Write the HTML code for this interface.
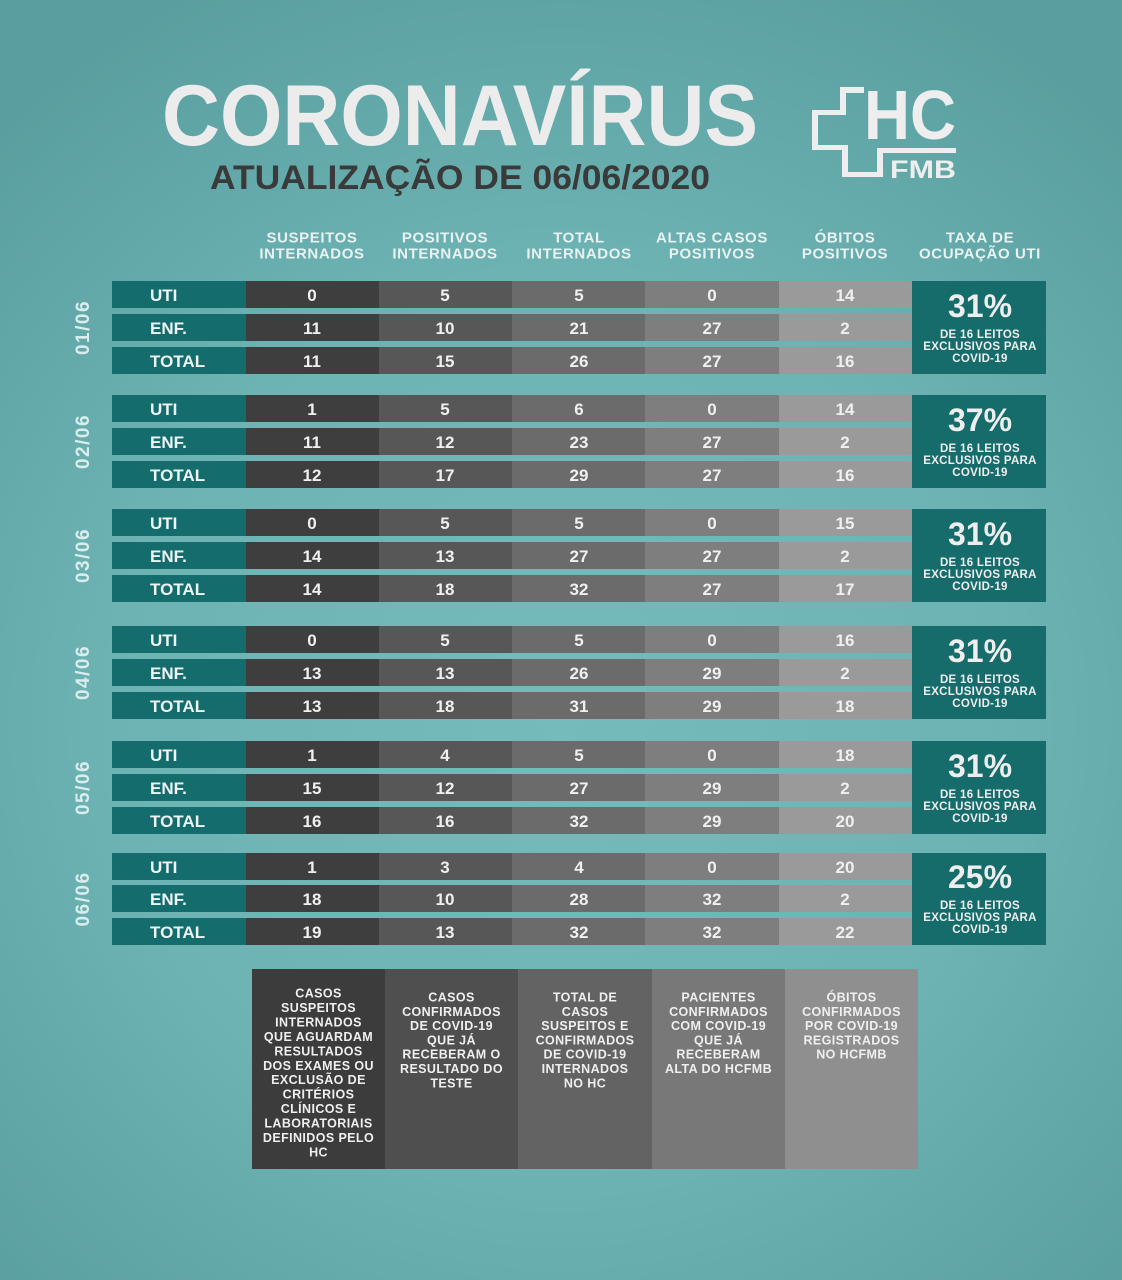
<!DOCTYPE html>
<html><head><meta charset="utf-8"><style>
html,body{margin:0;padding:0;background:#68afaf;}
svg{display:block;}
text{font-family:"Liberation Sans",Arial,sans-serif;}
</style></head><body>
<svg width="1122" height="1280" viewBox="0 0 1122 1280" xmlns="http://www.w3.org/2000/svg">
<defs>
<radialGradient id="bg" cx="560" cy="720" r="820" gradientUnits="userSpaceOnUse">
<stop offset="0" stop-color="#75bbbb"/>
<stop offset="0.55" stop-color="#6db3b3"/>
<stop offset="1" stop-color="#5a9e9f"/>
</radialGradient>
</defs>
<rect x="0" y="0" width="1122" height="1280" fill="url(#bg)"/>

<!-- Title -->
<text x="162" y="145" font-size="86" font-weight="bold" fill="#ececec" textLength="596" lengthAdjust="spacingAndGlyphs">CORONAVÍRUS</text>
<text x="210" y="189" font-size="34" font-weight="bold" fill="#3a3a3a" textLength="500" lengthAdjust="spacingAndGlyphs">ATUALIZAÇÃO DE 06/06/2020</text>

<!-- Logo -->
<g fill="#eeeeee">
<rect x="840" y="87" width="24" height="6"/>
<rect x="840" y="87" width="6" height="28"/>
<rect x="812" y="110" width="34" height="5"/>
<rect x="812" y="110" width="6" height="40"/>
<rect x="812" y="145" width="36" height="5"/>
<rect x="842" y="145" width="6" height="32"/>
<rect x="842" y="172" width="40" height="5"/>
<rect x="877" y="148" width="6" height="29"/>
<rect x="877" y="148" width="79" height="5"/>
</g>
<text x="864" y="139" font-size="70" font-weight="bold" fill="#eeeeee" textLength="92" lengthAdjust="spacingAndGlyphs">HC</text>
<text x="890" y="178" font-size="25" font-weight="bold" fill="#eeeeee" textLength="66" lengthAdjust="spacingAndGlyphs">FMB</text>

<!-- Column headers -->
<g font-size="15" font-weight="bold" fill="#e9f2f2" text-anchor="middle" letter-spacing="0.6">
<text x="312" y="242.5">SUSPEITOS</text><text x="312" y="258.5">INTERNADOS</text>
<text x="445" y="242.5">POSITIVOS</text><text x="445" y="258.5">INTERNADOS</text>
<text x="579" y="242.5">TOTAL</text><text x="579" y="258.5">INTERNADOS</text>
<text x="712" y="242.5">ALTAS CASOS</text><text x="712" y="258.5">POSITIVOS</text>
<text x="845" y="242.5">ÓBITOS</text><text x="845" y="258.5">POSITIVOS</text>
<text x="980" y="242.5">TAXA DE</text><text x="980" y="258.5">OCUPAÇÃO UTI</text>
</g>

<!-- Blocks -->
<g id="blocks">
<!-- Block template: rows at top+0, +33, +66, height 27 -->
</g>

<!-- Block 1 -->
<g>
<g transform="translate(0,281)">
<rect x="112" y="0" width="134" height="27" fill="#146c6d"/><rect x="246" y="0" width="133" height="27" fill="#3e3e3e"/><rect x="379" y="0" width="133" height="27" fill="#575757"/><rect x="512" y="0" width="133" height="27" fill="#6b6b6b"/><rect x="645" y="0" width="134" height="27" fill="#7e7e7e"/><rect x="779" y="0" width="133" height="27" fill="#9a9a9a"/>
<rect x="112" y="33" width="134" height="27" fill="#146c6d"/><rect x="246" y="33" width="133" height="27" fill="#3e3e3e"/><rect x="379" y="33" width="133" height="27" fill="#575757"/><rect x="512" y="33" width="133" height="27" fill="#6b6b6b"/><rect x="645" y="33" width="134" height="27" fill="#7e7e7e"/><rect x="779" y="33" width="133" height="27" fill="#9a9a9a"/>
<rect x="112" y="66" width="134" height="27" fill="#146c6d"/><rect x="246" y="66" width="133" height="27" fill="#3e3e3e"/><rect x="379" y="66" width="133" height="27" fill="#575757"/><rect x="512" y="66" width="133" height="27" fill="#6b6b6b"/><rect x="645" y="66" width="134" height="27" fill="#7e7e7e"/><rect x="779" y="66" width="133" height="27" fill="#9a9a9a"/>
<rect x="912" y="0" width="134" height="93" fill="#166b6b"/>
<g font-size="17" font-weight="bold" fill="#eef5f5"><text x="150" y="20">UTI</text><text x="150" y="53">ENF.</text><text x="150" y="86">TOTAL</text></g>
<g font-size="17" font-weight="bold" fill="#f0f0f0" text-anchor="middle">
<text x="312" y="20">0</text><text x="445" y="20">5</text><text x="579" y="20">5</text><text x="712" y="20">0</text><text x="845" y="20">14</text>
<text x="312" y="53">11</text><text x="445" y="53">10</text><text x="579" y="53">21</text><text x="712" y="53">27</text><text x="845" y="53">2</text>
<text x="312" y="86">11</text><text x="445" y="86">15</text><text x="579" y="86">26</text><text x="712" y="86">27</text><text x="845" y="86">16</text>
</g>
<text x="980" y="36" font-size="32" font-weight="bold" fill="#eeeeee" text-anchor="middle">31%</text>
<g font-size="11.5" font-weight="bold" fill="#eeeeee" text-anchor="middle" letter-spacing="0.3"><text x="980" y="57">DE 16 LEITOS</text><text x="980" y="69">EXCLUSIVOS PARA</text><text x="980" y="81">COVID-19</text></g>
<text transform="translate(82,46.5) rotate(-90)" y="7" font-size="19" font-weight="bold" fill="#d9eded" text-anchor="middle" letter-spacing="1.5">01/06</text>
</g>
</g>

<!-- Block 2 -->
<g transform="translate(0,395)">
<rect x="112" y="0" width="134" height="27" fill="#146c6d"/><rect x="246" y="0" width="133" height="27" fill="#3e3e3e"/><rect x="379" y="0" width="133" height="27" fill="#575757"/><rect x="512" y="0" width="133" height="27" fill="#6b6b6b"/><rect x="645" y="0" width="134" height="27" fill="#7e7e7e"/><rect x="779" y="0" width="133" height="27" fill="#9a9a9a"/>
<rect x="112" y="33" width="134" height="27" fill="#146c6d"/><rect x="246" y="33" width="133" height="27" fill="#3e3e3e"/><rect x="379" y="33" width="133" height="27" fill="#575757"/><rect x="512" y="33" width="133" height="27" fill="#6b6b6b"/><rect x="645" y="33" width="134" height="27" fill="#7e7e7e"/><rect x="779" y="33" width="133" height="27" fill="#9a9a9a"/>
<rect x="112" y="66" width="134" height="27" fill="#146c6d"/><rect x="246" y="66" width="133" height="27" fill="#3e3e3e"/><rect x="379" y="66" width="133" height="27" fill="#575757"/><rect x="512" y="66" width="133" height="27" fill="#6b6b6b"/><rect x="645" y="66" width="134" height="27" fill="#7e7e7e"/><rect x="779" y="66" width="133" height="27" fill="#9a9a9a"/>
<rect x="912" y="0" width="134" height="93" fill="#166b6b"/>
<g font-size="17" font-weight="bold" fill="#eef5f5"><text x="150" y="20">UTI</text><text x="150" y="53">ENF.</text><text x="150" y="86">TOTAL</text></g>
<g font-size="17" font-weight="bold" fill="#f0f0f0" text-anchor="middle">
<text x="312" y="20">1</text><text x="445" y="20">5</text><text x="579" y="20">6</text><text x="712" y="20">0</text><text x="845" y="20">14</text>
<text x="312" y="53">11</text><text x="445" y="53">12</text><text x="579" y="53">23</text><text x="712" y="53">27</text><text x="845" y="53">2</text>
<text x="312" y="86">12</text><text x="445" y="86">17</text><text x="579" y="86">29</text><text x="712" y="86">27</text><text x="845" y="86">16</text>
</g>
<text x="980" y="36" font-size="32" font-weight="bold" fill="#eeeeee" text-anchor="middle">37%</text>
<g font-size="11.5" font-weight="bold" fill="#eeeeee" text-anchor="middle" letter-spacing="0.3"><text x="980" y="57">DE 16 LEITOS</text><text x="980" y="69">EXCLUSIVOS PARA</text><text x="980" y="81">COVID-19</text></g>
<text transform="translate(82,46.5) rotate(-90)" y="7" font-size="19" font-weight="bold" fill="#d9eded" text-anchor="middle" letter-spacing="1.5">02/06</text>
</g>

<!-- Block 3 -->
<g transform="translate(0,509)">
<rect x="112" y="0" width="134" height="27" fill="#146c6d"/><rect x="246" y="0" width="133" height="27" fill="#3e3e3e"/><rect x="379" y="0" width="133" height="27" fill="#575757"/><rect x="512" y="0" width="133" height="27" fill="#6b6b6b"/><rect x="645" y="0" width="134" height="27" fill="#7e7e7e"/><rect x="779" y="0" width="133" height="27" fill="#9a9a9a"/>
<rect x="112" y="33" width="134" height="27" fill="#146c6d"/><rect x="246" y="33" width="133" height="27" fill="#3e3e3e"/><rect x="379" y="33" width="133" height="27" fill="#575757"/><rect x="512" y="33" width="133" height="27" fill="#6b6b6b"/><rect x="645" y="33" width="134" height="27" fill="#7e7e7e"/><rect x="779" y="33" width="133" height="27" fill="#9a9a9a"/>
<rect x="112" y="66" width="134" height="27" fill="#146c6d"/><rect x="246" y="66" width="133" height="27" fill="#3e3e3e"/><rect x="379" y="66" width="133" height="27" fill="#575757"/><rect x="512" y="66" width="133" height="27" fill="#6b6b6b"/><rect x="645" y="66" width="134" height="27" fill="#7e7e7e"/><rect x="779" y="66" width="133" height="27" fill="#9a9a9a"/>
<rect x="912" y="0" width="134" height="93" fill="#166b6b"/>
<g font-size="17" font-weight="bold" fill="#eef5f5"><text x="150" y="20">UTI</text><text x="150" y="53">ENF.</text><text x="150" y="86">TOTAL</text></g>
<g font-size="17" font-weight="bold" fill="#f0f0f0" text-anchor="middle">
<text x="312" y="20">0</text><text x="445" y="20">5</text><text x="579" y="20">5</text><text x="712" y="20">0</text><text x="845" y="20">15</text>
<text x="312" y="53">14</text><text x="445" y="53">13</text><text x="579" y="53">27</text><text x="712" y="53">27</text><text x="845" y="53">2</text>
<text x="312" y="86">14</text><text x="445" y="86">18</text><text x="579" y="86">32</text><text x="712" y="86">27</text><text x="845" y="86">17</text>
</g>
<text x="980" y="36" font-size="32" font-weight="bold" fill="#eeeeee" text-anchor="middle">31%</text>
<g font-size="11.5" font-weight="bold" fill="#eeeeee" text-anchor="middle" letter-spacing="0.3"><text x="980" y="57">DE 16 LEITOS</text><text x="980" y="69">EXCLUSIVOS PARA</text><text x="980" y="81">COVID-19</text></g>
<text transform="translate(82,46.5) rotate(-90)" y="7" font-size="19" font-weight="bold" fill="#d9eded" text-anchor="middle" letter-spacing="1.5">03/06</text>
</g>

<!-- Block 4 -->
<g transform="translate(0,626)">
<rect x="112" y="0" width="134" height="27" fill="#146c6d"/><rect x="246" y="0" width="133" height="27" fill="#3e3e3e"/><rect x="379" y="0" width="133" height="27" fill="#575757"/><rect x="512" y="0" width="133" height="27" fill="#6b6b6b"/><rect x="645" y="0" width="134" height="27" fill="#7e7e7e"/><rect x="779" y="0" width="133" height="27" fill="#9a9a9a"/>
<rect x="112" y="33" width="134" height="27" fill="#146c6d"/><rect x="246" y="33" width="133" height="27" fill="#3e3e3e"/><rect x="379" y="33" width="133" height="27" fill="#575757"/><rect x="512" y="33" width="133" height="27" fill="#6b6b6b"/><rect x="645" y="33" width="134" height="27" fill="#7e7e7e"/><rect x="779" y="33" width="133" height="27" fill="#9a9a9a"/>
<rect x="112" y="66" width="134" height="27" fill="#146c6d"/><rect x="246" y="66" width="133" height="27" fill="#3e3e3e"/><rect x="379" y="66" width="133" height="27" fill="#575757"/><rect x="512" y="66" width="133" height="27" fill="#6b6b6b"/><rect x="645" y="66" width="134" height="27" fill="#7e7e7e"/><rect x="779" y="66" width="133" height="27" fill="#9a9a9a"/>
<rect x="912" y="0" width="134" height="93" fill="#166b6b"/>
<g font-size="17" font-weight="bold" fill="#eef5f5"><text x="150" y="20">UTI</text><text x="150" y="53">ENF.</text><text x="150" y="86">TOTAL</text></g>
<g font-size="17" font-weight="bold" fill="#f0f0f0" text-anchor="middle">
<text x="312" y="20">0</text><text x="445" y="20">5</text><text x="579" y="20">5</text><text x="712" y="20">0</text><text x="845" y="20">16</text>
<text x="312" y="53">13</text><text x="445" y="53">13</text><text x="579" y="53">26</text><text x="712" y="53">29</text><text x="845" y="53">2</text>
<text x="312" y="86">13</text><text x="445" y="86">18</text><text x="579" y="86">31</text><text x="712" y="86">29</text><text x="845" y="86">18</text>
</g>
<text x="980" y="36" font-size="32" font-weight="bold" fill="#eeeeee" text-anchor="middle">31%</text>
<g font-size="11.5" font-weight="bold" fill="#eeeeee" text-anchor="middle" letter-spacing="0.3"><text x="980" y="57">DE 16 LEITOS</text><text x="980" y="69">EXCLUSIVOS PARA</text><text x="980" y="81">COVID-19</text></g>
<text transform="translate(82,46.5) rotate(-90)" y="7" font-size="19" font-weight="bold" fill="#d9eded" text-anchor="middle" letter-spacing="1.5">04/06</text>
</g>

<!-- Block 5 -->
<g transform="translate(0,741)">
<rect x="112" y="0" width="134" height="27" fill="#146c6d"/><rect x="246" y="0" width="133" height="27" fill="#3e3e3e"/><rect x="379" y="0" width="133" height="27" fill="#575757"/><rect x="512" y="0" width="133" height="27" fill="#6b6b6b"/><rect x="645" y="0" width="134" height="27" fill="#7e7e7e"/><rect x="779" y="0" width="133" height="27" fill="#9a9a9a"/>
<rect x="112" y="33" width="134" height="27" fill="#146c6d"/><rect x="246" y="33" width="133" height="27" fill="#3e3e3e"/><rect x="379" y="33" width="133" height="27" fill="#575757"/><rect x="512" y="33" width="133" height="27" fill="#6b6b6b"/><rect x="645" y="33" width="134" height="27" fill="#7e7e7e"/><rect x="779" y="33" width="133" height="27" fill="#9a9a9a"/>
<rect x="112" y="66" width="134" height="27" fill="#146c6d"/><rect x="246" y="66" width="133" height="27" fill="#3e3e3e"/><rect x="379" y="66" width="133" height="27" fill="#575757"/><rect x="512" y="66" width="133" height="27" fill="#6b6b6b"/><rect x="645" y="66" width="134" height="27" fill="#7e7e7e"/><rect x="779" y="66" width="133" height="27" fill="#9a9a9a"/>
<rect x="912" y="0" width="134" height="93" fill="#166b6b"/>
<g font-size="17" font-weight="bold" fill="#eef5f5"><text x="150" y="20">UTI</text><text x="150" y="53">ENF.</text><text x="150" y="86">TOTAL</text></g>
<g font-size="17" font-weight="bold" fill="#f0f0f0" text-anchor="middle">
<text x="312" y="20">1</text><text x="445" y="20">4</text><text x="579" y="20">5</text><text x="712" y="20">0</text><text x="845" y="20">18</text>
<text x="312" y="53">15</text><text x="445" y="53">12</text><text x="579" y="53">27</text><text x="712" y="53">29</text><text x="845" y="53">2</text>
<text x="312" y="86">16</text><text x="445" y="86">16</text><text x="579" y="86">32</text><text x="712" y="86">29</text><text x="845" y="86">20</text>
</g>
<text x="980" y="36" font-size="32" font-weight="bold" fill="#eeeeee" text-anchor="middle">31%</text>
<g font-size="11.5" font-weight="bold" fill="#eeeeee" text-anchor="middle" letter-spacing="0.3"><text x="980" y="57">DE 16 LEITOS</text><text x="980" y="69">EXCLUSIVOS PARA</text><text x="980" y="81">COVID-19</text></g>
<text transform="translate(82,46.5) rotate(-90)" y="7" font-size="19" font-weight="bold" fill="#d9eded" text-anchor="middle" letter-spacing="1.5">05/06</text>
</g>

<!-- Block 6 -->
<g transform="translate(0,853)">
<rect x="112" y="0" width="134" height="27" fill="#146c6d"/><rect x="246" y="0" width="133" height="27" fill="#3e3e3e"/><rect x="379" y="0" width="133" height="27" fill="#575757"/><rect x="512" y="0" width="133" height="27" fill="#6b6b6b"/><rect x="645" y="0" width="134" height="27" fill="#7e7e7e"/><rect x="779" y="0" width="133" height="27" fill="#9a9a9a"/>
<rect x="112" y="32" width="134" height="27" fill="#146c6d"/><rect x="246" y="32" width="133" height="27" fill="#3e3e3e"/><rect x="379" y="32" width="133" height="27" fill="#575757"/><rect x="512" y="32" width="133" height="27" fill="#6b6b6b"/><rect x="645" y="32" width="134" height="27" fill="#7e7e7e"/><rect x="779" y="32" width="133" height="27" fill="#9a9a9a"/>
<rect x="112" y="65" width="134" height="27" fill="#146c6d"/><rect x="246" y="65" width="133" height="27" fill="#3e3e3e"/><rect x="379" y="65" width="133" height="27" fill="#575757"/><rect x="512" y="65" width="133" height="27" fill="#6b6b6b"/><rect x="645" y="65" width="134" height="27" fill="#7e7e7e"/><rect x="779" y="65" width="133" height="27" fill="#9a9a9a"/>
<rect x="912" y="0" width="134" height="92" fill="#166b6b"/>
<g font-size="17" font-weight="bold" fill="#eef5f5"><text x="150" y="20">UTI</text><text x="150" y="52">ENF.</text><text x="150" y="85">TOTAL</text></g>
<g font-size="17" font-weight="bold" fill="#f0f0f0" text-anchor="middle">
<text x="312" y="20">1</text><text x="445" y="20">3</text><text x="579" y="20">4</text><text x="712" y="20">0</text><text x="845" y="20">20</text>
<text x="312" y="52">18</text><text x="445" y="52">10</text><text x="579" y="52">28</text><text x="712" y="52">32</text><text x="845" y="52">2</text>
<text x="312" y="85">19</text><text x="445" y="85">13</text><text x="579" y="85">32</text><text x="712" y="85">32</text><text x="845" y="85">22</text>
</g>
<text x="980" y="35" font-size="32" font-weight="bold" fill="#eeeeee" text-anchor="middle">25%</text>
<g font-size="11.5" font-weight="bold" fill="#eeeeee" text-anchor="middle" letter-spacing="0.3"><text x="980" y="56">DE 16 LEITOS</text><text x="980" y="68">EXCLUSIVOS PARA</text><text x="980" y="80">COVID-19</text></g>
<text transform="translate(82,46) rotate(-90)" y="7" font-size="19" font-weight="bold" fill="#d9eded" text-anchor="middle" letter-spacing="1.5">06/06</text>
</g>

<!-- Legend -->
<rect x="252" y="969" width="133" height="200" fill="#3c3c3c"/>
<rect x="385" y="969" width="133" height="200" fill="#4f4f4f"/>
<rect x="518" y="969" width="134" height="200" fill="#636363"/>
<rect x="652" y="969" width="133" height="200" fill="#787878"/>
<rect x="785" y="969" width="133" height="200" fill="#8f8f8f"/>
<g font-size="12.5" font-weight="bold" fill="#efefef" text-anchor="middle" letter-spacing="0.4">
<text x="318.5" y="997.5">CASOS</text>
<text x="318.5" y="1012">SUSPEITOS</text>
<text x="318.5" y="1026.4">INTERNADOS</text>
<text x="318.5" y="1040.9">QUE AGUARDAM</text>
<text x="318.5" y="1055.3">RESULTADOS</text>
<text x="318.5" y="1069.8">DOS EXAMES OU</text>
<text x="318.5" y="1084.2">EXCLUSÃO DE</text>
<text x="318.5" y="1098.7">CRITÉRIOS</text>
<text x="318.5" y="1113.1">CLÍNICOS E</text>
<text x="318.5" y="1127.6">LABORATORIAIS</text>
<text x="318.5" y="1142">DEFINIDOS PELO</text>
<text x="318.5" y="1156.5">HC</text>

<text x="451.5" y="1001.5">CASOS</text>
<text x="451.5" y="1015.8">CONFIRMADOS</text>
<text x="451.5" y="1030.1">DE COVID-19</text>
<text x="451.5" y="1044.4">QUE JÁ</text>
<text x="451.5" y="1058.7">RECEBERAM O</text>
<text x="451.5" y="1073">RESULTADO DO</text>
<text x="451.5" y="1087.3">TESTE</text>

<text x="585" y="1001.5">TOTAL DE</text>
<text x="585" y="1015.8">CASOS</text>
<text x="585" y="1030.1">SUSPEITOS E</text>
<text x="585" y="1044.4">CONFIRMADOS</text>
<text x="585" y="1058.7">DE COVID-19</text>
<text x="585" y="1073">INTERNADOS</text>
<text x="585" y="1087.3">NO HC</text>

<text x="718.5" y="1001.5">PACIENTES</text>
<text x="718.5" y="1015.8">CONFIRMADOS</text>
<text x="718.5" y="1030.1">COM COVID-19</text>
<text x="718.5" y="1044.4">QUE JÁ</text>
<text x="718.5" y="1058.7">RECEBERAM</text>
<text x="718.5" y="1073">ALTA DO HCFMB</text>

<text x="851.5" y="1001.5">ÓBITOS</text>
<text x="851.5" y="1015.8">CONFIRMADOS</text>
<text x="851.5" y="1030.1">POR COVID-19</text>
<text x="851.5" y="1044.4">REGISTRADOS</text>
<text x="851.5" y="1058.7">NO HCFMB</text>
</g>
</svg>
</body></html>
